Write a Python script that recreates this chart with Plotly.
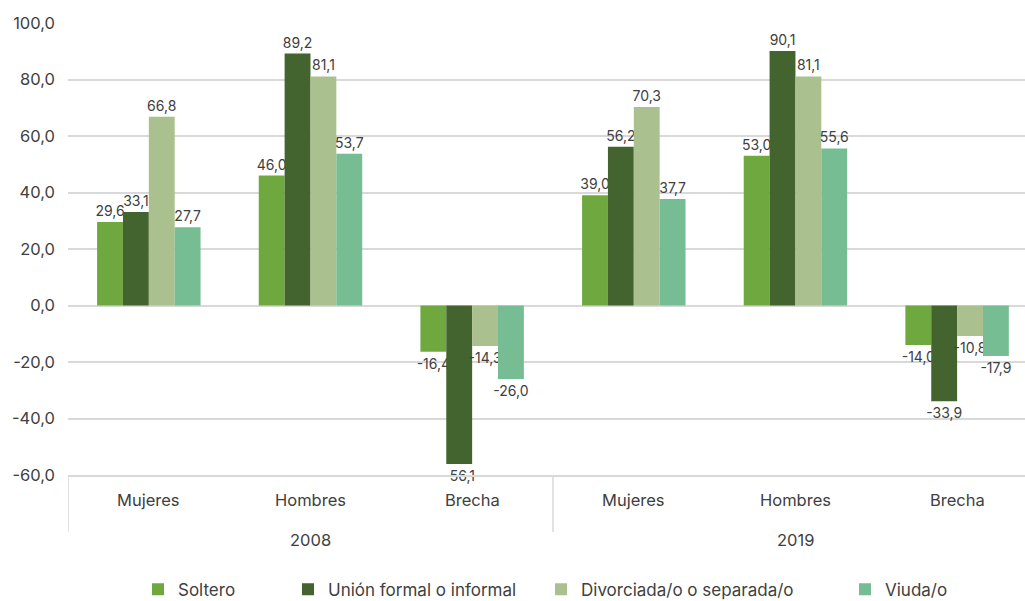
import plotly.graph_objects as go

# Categories: two-level x axis (year, group)
years = ["2008", "2008", "2008", "2019", "2019", "2019"]
groups = ["Mujeres", "Hombres", "Brecha", "Mujeres", "Hombres", "Brecha"]

# Series values by marital status
soltero = [29.6, 46.0, -16.4, 39.0, 53.0, -14.0]
union = [33.1, 89.2, -56.1, 56.2, 90.1, -33.9]
divorciada = [66.8, 81.1, -14.3, 70.3, 81.1, -10.8]
viuda = [27.7, 53.7, -26.0, 37.7, 55.6, -17.9]

series_names = ["Soltero", "Unión formal o informal", "Divorciada/o o separada/o", "Viuda/o"]
series_values = [soltero, union, divorciada, viuda]
series_colors = ["#70A840", "#43632F", "#AAC08E", "#76BD94"]

# Y axis ticks
y_tickvals = [-60, -40, -20, 0, 20, 40, 60, 80, 100]
y_ticktext = ["-60,0", "-40,0", "-20,0", "0,0", "20,0", "40,0", "60,0", "80,0", "100,0"]

TEXT = "#404040"
GRID = "#D9D9D9"
FONT = "Inter, Roboto, sans-serif"


def fmt(v):
    return f"{v:.1f}".replace(".", ",")


fig = go.Figure()
legend_ids = ["legend", "legend2", "legend3", "legend4"]
for name, vals, color, lg in zip(series_names, series_values, series_colors, legend_ids):
    fig.add_trace(go.Bar(
        name=name,
        x=[years, groups],
        y=vals,
        marker=dict(color=color, line=dict(width=0)),
        text=[fmt(v) for v in vals],
        textposition="outside",
        textfont=dict(size=14, color=TEXT, family=FONT),
        constraintext="none",
        cliponaxis=False,
        legend=lg,
        showlegend=True,
        hoverinfo="skip",
    ))

# Category labels under the axis: group names on the first row, year below
for i, g in enumerate(groups):
    fig.add_annotation(x=i, y=-0.055, xref="x", yref="paper", text=g,
                       showarrow=False, yanchor="middle",
                       font=dict(size=16.5, color=TEXT, family=FONT))

year_list = list(dict.fromkeys(years))
for yr in year_list:
    idx = [i for i, v in enumerate(years) if v == yr]
    fig.add_annotation(x=sum(idx) / len(idx), y=-0.143, xref="x", yref="paper", text=yr,
                       showarrow=False, yanchor="middle",
                       font=dict(size=16.5, color=TEXT, family=FONT))
    # divider at the start of each year block
    fig.add_shape(type="line", xref="x", yref="paper",
                  x0=idx[0] - 0.5, x1=idx[0] - 0.5, y0=0, y1=-0.126,
                  line=dict(color=GRID, width=1.5))

# Individually placed legend entries along the bottom
legend_px = [138, 288, 541, 845]
legend_common = dict(
    orientation="h", yanchor="middle", xanchor="left",
    xref="container", yref="container", y=0.019,
    borderwidth=0, tracegroupgap=0,
    font=dict(size=17, color=TEXT, family=FONT), bgcolor="rgba(0,0,0,0)",
)
layout_legends = {}
for lg, px in zip(legend_ids, legend_px):
    layout_legends[lg] = dict(x=px / 1025, **legend_common)

fig.update_layout(
    width=1025, height=601,
    margin=dict(l=68, r=0, t=23, b=126),
    paper_bgcolor="white", plot_bgcolor="white",
    barmode="group",
    bargap=0.36,
    bargroupgap=0,
    showlegend=True,
    font=dict(family=FONT, color=TEXT, size=15),
    **layout_legends,
)

fig.update_yaxes(
    range=[-60, 100],
    tickvals=y_tickvals,
    ticktext=y_ticktext,
    showgrid=True, gridcolor=GRID, gridwidth=1.5,
    zeroline=True, zerolinecolor=GRID, zerolinewidth=1.5,
    showline=False,
    tickfont=dict(size=16.5, color=TEXT, family=FONT),
    ticklabelstandoff=12,
)

fig.update_xaxes(
    type="multicategory",
    range=[-0.5, 5.42],
    showline=True, linecolor=GRID, linewidth=1.5,
    showdividers=False,
    showticklabels=False,
    showgrid=False,
)

fig.write_html("out.html")
